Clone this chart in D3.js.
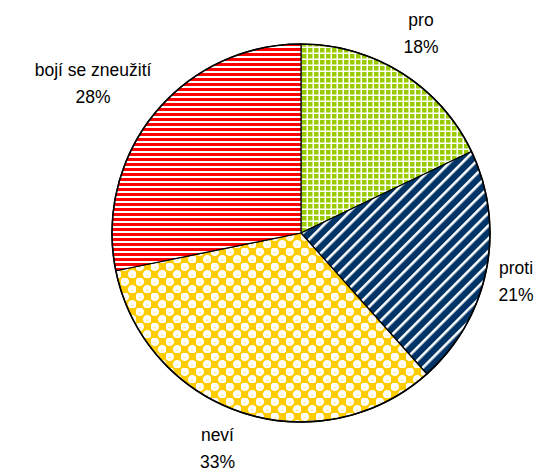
<!DOCTYPE html>
<html><head><meta charset="utf-8">
<script src="https://cdn.jsdelivr.net/npm/d3@7"></script>
<style>body{margin:0;background:#fff}svg{display:block}text{font-family:"Liberation Sans",Arial,sans-serif;font-size:17.5px;fill:#000}</style>
</head><body>
<script>
const categories = ["pro", "proti", "neví", "bojí se zneužití"];
const values = [17.9, 20.5, 33.4, 28.2];
const colors = ["#99cc00", "#003366", "#ffcc00", "#ff0000"];

const W = 539, H = 470, cx = 301, cy = 233, R = 189;
const svg = d3.select("body").append("svg").attr("width", W).attr("height", H);
const defs = svg.append("defs");

// green grid
let p = defs.append("pattern").attr("id", "p0").attr("patternUnits", "userSpaceOnUse").attr("width", 6).attr("height", 6);
p.append("rect").attr("width", 6).attr("height", 6).attr("fill", "#fff");
p.append("rect").attr("x", 1).attr("y", 1).attr("width", 4.5).attr("height", 4.5).attr("fill", colors[0]);
// blue diagonal
p = defs.append("pattern").attr("id", "p1").attr("patternUnits", "userSpaceOnUse").attr("width", 9).attr("height", 9).attr("patternTransform", "rotate(45)");
p.append("rect").attr("width", 9).attr("height", 9).attr("fill", colors[1]);
p.append("rect").attr("x", 0).attr("width", 2.6).attr("height", 9).attr("fill", "#fff");
// yellow checker with circles
p = defs.append("pattern").attr("id", "p2").attr("patternUnits", "userSpaceOnUse").attr("width", 15).attr("height", 15);
p.append("rect").attr("width", 15).attr("height", 15).attr("fill", colors[2]);
p.append("circle").attr("cx", 3.75).attr("cy", 3.75).attr("r", 4.3).attr("fill", "#fff");
p.append("circle").attr("cx", 11.25).attr("cy", 11.25).attr("r", 4.3).attr("fill", "#fff");
p.append("rect").attr("x", 2.5).attr("y", 4.2).attr("width", 2.5).attr("height", 1).attr("fill", "#ffe680");
p.append("rect").attr("x", 10).attr("y", 11.7).attr("width", 2.5).attr("height", 1).attr("fill", "#ffe680");
// red horizontal stripes
p = defs.append("pattern").attr("id", "p3").attr("patternUnits", "userSpaceOnUse").attr("width", 5).attr("height", 5);
p.append("rect").attr("width", 5).attr("height", 5).attr("fill", "#fff");
p.append("rect").attr("y", 0).attr("width", 5).attr("height", 3).attr("fill", colors[3]);

const pie = d3.pie().sort(null).value(d => d)(values);
const arc = d3.arc().innerRadius(0).outerRadius(R);
const g = svg.append("g").attr("transform", `translate(${cx},${cy})`);
g.selectAll("path.s").data(pie).join("path").attr("class", "s")
  .attr("d", arc).attr("fill", (d, i) => `url(#p${i})`)
  .attr("stroke", "#000").attr("stroke-width", 1.2).attr("stroke-linejoin", "round");
g.append("circle").attr("r", R).attr("fill", "none").attr("stroke", "#000").attr("stroke-width", 1.6);

const total = d3.sum(values);
const labelR = [239.3, 218.9, 224.5, 260.4];
const labelDa = [-0.037, -0.0094, 0.061, -0.039];
pie.forEach((d, i) => {
  const a = (d.startAngle + d.endAngle) / 2 + labelDa[i];
  const x = Math.sin(a) * labelR[i], y = -Math.cos(a) * labelR[i];
  const t = g.append("text").attr("text-anchor", "middle").attr("transform", `translate(${x},${y})`);
  t.append("tspan").attr("x", 0).attr("y", 0).text(categories[i]);
  t.append("tspan").attr("x", 0).attr("y", 27).text(Math.round(d.value / total * 100) + "%");
});
</script>
</body></html>
